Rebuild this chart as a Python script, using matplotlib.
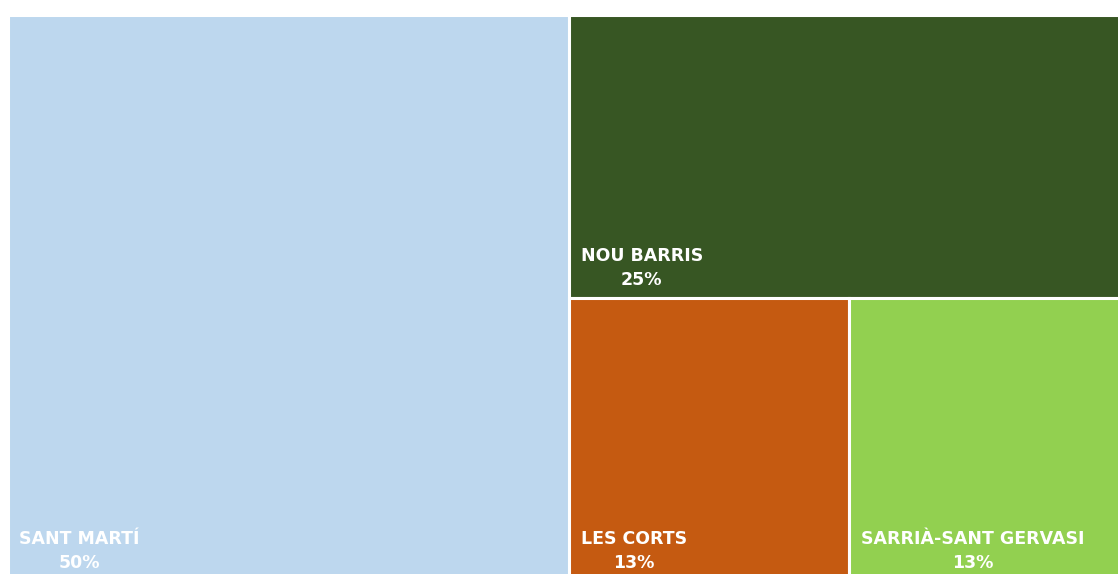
import matplotlib.pyplot as plt
from matplotlib.patches import Rectangle

# treemap data
districts = ['SANT MARTÍ', 'NOU BARRIS', 'LES CORTS', 'SARRIÀ-SANT GERVASI']
counts = [4, 2, 1, 1]
colors = ['#BDD7EE', '#375623', '#C55A11', '#92D050']

plt.rcParams['font.family'] = ['DejaVu Sans']

W, H = 1122.5, 566.0  # layout area in pixels

fig = plt.figure(figsize=(11.18, 5.74), dpi=100)
ax = fig.add_axes([7.5 / 1118, 1 - 581 / 574, W / 1118, H / 574])
ax.set_xlim(0, W)
ax.set_ylim(0, H)
ax.axis('off')


def slice_layout(vals, x, y, w, h):
    """take first item, cut along the longer side, repeat"""
    rects = []
    total = float(sum(vals))
    for i, v in enumerate(vals):
        if i == len(vals) - 1:
            rects.append((x, y, w, h))
            break
        frac = v / total
        if w >= h:
            rects.append((x, y, w * frac, h))
            x += w * frac
            w -= w * frac
        else:
            # top piece first
            rects.append((x, y + h - h * frac, w, h * frac))
            h -= h * frac
        total -= v
    return rects


total = sum(counts)
for (x, y, w, h), name, c, col in zip(slice_layout(counts, 0, 0, W, H),
                                     districts, counts, colors):
    ax.add_patch(Rectangle((x, y), w, h, facecolor=col, edgecolor='white',
                           linewidth=2.2))
    pct = int(100 * c / total + 0.5)
    ax.annotate(f'{name}\n{pct}%', xy=(x, y), xytext=(8.5, 6.5),
                textcoords='offset points', ha='left', va='bottom',
                multialignment='center', linespacing=1.42,
                color='white', fontsize=12.5, fontweight='bold')

fig.savefig('out.png', dpi=100)
